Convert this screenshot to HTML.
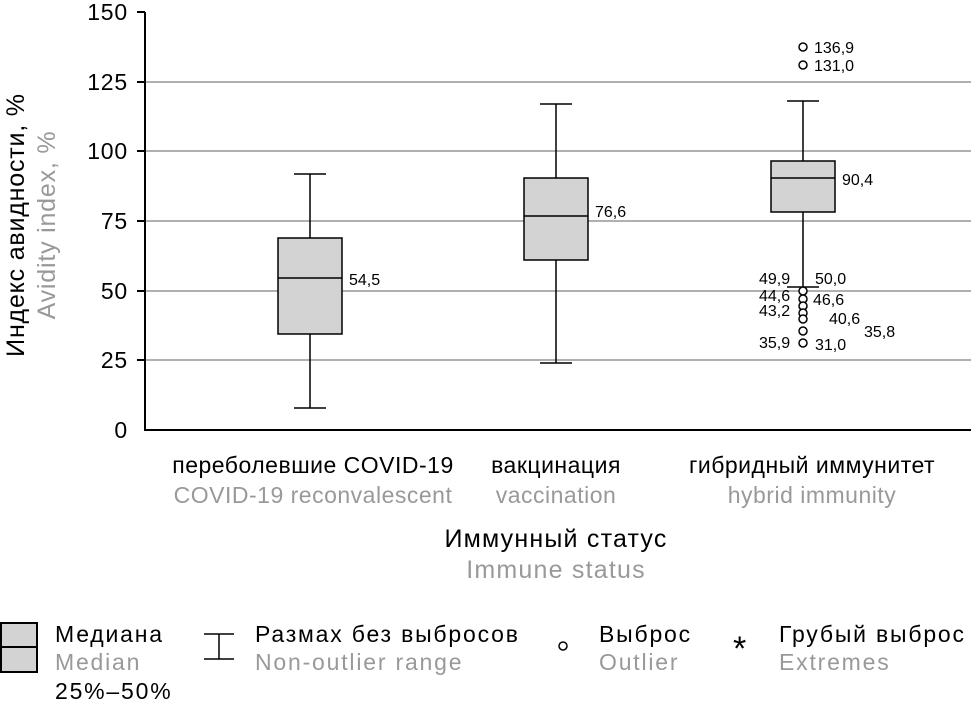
<!DOCTYPE html>
<html><head><meta charset="utf-8"><style>
body{margin:0;background:#fff}
svg text{font-family:"Liberation Sans",sans-serif}
</style></head><body>
<svg width="971" height="710" xmlns="http://www.w3.org/2000/svg">
<g stroke="#b0b0b0" stroke-width="2">
<line x1="145" y1="82" x2="971" y2="82"/><line x1="145" y1="151" x2="971" y2="151"/>
<line x1="145" y1="221" x2="971" y2="221"/><line x1="145" y1="291" x2="971" y2="291"/>
<line x1="145" y1="360" x2="971" y2="360"/>
</g>
<g stroke="#000" stroke-width="2" fill="none">
<line x1="145" y1="12" x2="145" y2="431"/><line x1="144" y1="430" x2="971" y2="430"/>
<line x1="137" y1="12" x2="145" y2="12"/><line x1="137" y1="82" x2="145" y2="82"/><line x1="137" y1="151" x2="145" y2="151"/><line x1="137" y1="221" x2="145" y2="221"/><line x1="137" y1="291" x2="145" y2="291"/><line x1="137" y1="360" x2="145" y2="360"/>
</g>
<g font-size="23" text-anchor="end" fill="#000" letter-spacing="0.8">
<text x="128" y="20">150</text><text x="128" y="90">125</text><text x="128" y="159">100</text><text x="128" y="229">75</text><text x="128" y="299">50</text><text x="128" y="368">25</text><text x="128" y="438">0</text>
</g>
<text transform="translate(24,225) rotate(-90)" font-size="25" letter-spacing="0.8" text-anchor="middle">Индекс авидности, %</text>
<text transform="translate(55,225) rotate(-90)" font-size="25" letter-spacing="0.8" text-anchor="middle" fill="#999">Avidity index, %</text>
<g stroke="#000" stroke-width="1.5" fill="#d3d3d4">
<line x1="310" y1="174" x2="310" y2="408"/><line x1="294" y1="174" x2="326" y2="174"/><line x1="294" y1="408" x2="326" y2="408"/>
<rect x="278" y="238" width="64" height="96"/><line x1="278" y1="278" x2="342" y2="278"/>
<line x1="556" y1="104" x2="556" y2="363"/><line x1="540" y1="104" x2="572" y2="104"/><line x1="540" y1="363" x2="572" y2="363"/>
<rect x="524" y="178" width="64" height="82"/><line x1="524" y1="216" x2="588" y2="216"/>
<line x1="803" y1="101" x2="803" y2="287"/><line x1="787" y1="101" x2="819" y2="101"/><line x1="787" y1="287" x2="819" y2="287"/>
<rect x="771" y="161" width="64" height="51"/><line x1="771" y1="178" x2="835" y2="178"/>
</g>
<g stroke="#000" stroke-width="1.5" fill="#fff">
<circle cx="803" cy="47" r="4"/><circle cx="803" cy="65" r="4"/>
<circle cx="803" cy="291" r="4"/><circle cx="803" cy="299" r="4"/><circle cx="803" cy="306" r="4"/><circle cx="803" cy="313" r="4"/><circle cx="803" cy="319" r="4"/><circle cx="803" cy="331" r="4"/><circle cx="803" cy="343" r="4"/>
</g>
<g font-size="16" fill="#000">
<text x="349" y="285">54,5</text><text x="595" y="217">76,6</text><text x="842" y="185">90,4</text>
<text x="814" y="53">136,9</text><text x="814" y="71">131,0</text>
<text x="759" y="284">49,9</text><text x="815" y="284">50,0</text>
<text x="759" y="301">44,6</text><text x="813" y="305">46,6</text>
<text x="759" y="316">43,2</text><text x="829" y="324">40,6</text>
<text x="864" y="337">35,8</text>
<text x="759" y="348">35,9</text><text x="815" y="350">31,0</text>
</g>
<g font-size="23" text-anchor="middle" letter-spacing="0.5">
<text x="313" y="473">переболевшие COVID-19</text><text x="313" y="503" fill="#999">COVID-19 reconvalescent</text>
<text x="556" y="473">вакцинация</text><text x="556" y="503" fill="#999">vaccination</text>
<text x="812" y="473">гибридный иммунитет</text><text x="812" y="503" fill="#999">hybrid immunity</text>
<text x="556" y="547" font-size="25" letter-spacing="1.2">Иммунный статус</text><text x="556" y="578" font-size="25" letter-spacing="1.2" fill="#999">Immune status</text>
</g>
<g stroke="#000" stroke-width="2" fill="#d3d3d4">
<rect x="1" y="623" width="36" height="49"/><line x1="1" y1="647" x2="37" y2="647"/>
</g>
<g stroke="#000" stroke-width="1.5">
<line x1="204" y1="634" x2="234" y2="634"/><line x1="204" y1="659" x2="234" y2="659"/><line x1="219" y1="634" x2="219" y2="659"/>
</g>
<circle cx="563" cy="646" r="4" fill="#fff" stroke="#000" stroke-width="1.5"/>
<g font-size="23" letter-spacing="1.8">
<text x="55" y="642">Медиана</text><text x="55" y="670" fill="#999">Median</text><text x="55" y="699">25%–50%</text>
<text x="255" y="642">Размах без выбросов</text><text x="255" y="670" fill="#999">Non-outlier range</text>
<text x="599" y="642">Выброс</text><text x="599" y="670" fill="#999">Outlier</text>
<text x="779" y="642">Грубый выброс</text><text x="779" y="670" fill="#999">Extremes</text>
<text x="733" y="660" font-size="34">*</text>
</g>
</svg>
</body></html>
